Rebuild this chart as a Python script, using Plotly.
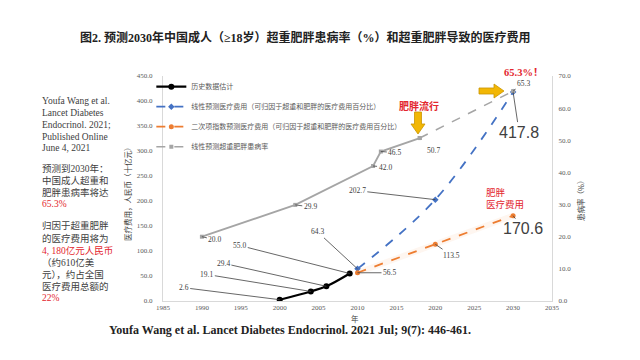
import plotly.graph_objects as go

# ---------------- data ----------------
hist_years = [2000, 2004, 2006, 2009]
hist_cost = [2.6, 19.1, 29.4, 55.0]

lin_years = [2010, 2020, 2030]
lin_cost = [64.3, 202.7, 417.8]

quad_years = [2010, 2020, 2030]
quad_cost = [56.5, 113.5, 170.6]

prev_obs_years = [1990, 2002, 2012, 2013, 2018]
prev_obs = [20.0, 29.9, 42.0, 46.5, 50.7]
prev_proj_years = [2018, 2030]
prev_proj = [50.7, 65.3]

legend_names = [
    "历史数据估计",
    "线性预测医疗费用（可归因于超重和肥胖的医疗费用百分比）",
    "二次项指数预测医疗费用（可归因于超重和肥胖的医疗费用百分比）",
    "线性预测超重肥胖患病率",
]

# ---------------- layout geometry (pixels, as seen in the photographed page) ----------------
W, H = 640, 360
OFF = 8  # page body margin
L, R, T, B = 163, 552, 76, 301


def px(x):
    return (x - L) / (R - L)


def py(y):
    return (B - y) / (B - T)


SERIF = "Liberation Serif, Noto Sans CJK SC"
CJK = "Noto Sans CJK SC"
RED = "#e3262e"
TXT = "#404040"

fig = go.Figure()

fig.add_trace(go.Scatter(
    x=hist_years, y=hist_cost, name=legend_names[0], mode="lines+markers",
    line=dict(color="#000000", width=2.2, shape="spline"),
    marker=dict(symbol="circle", size=6, color="#000000"),
    legendgroup="a", showlegend=True))
fig.add_trace(go.Scatter(
    x=lin_years, y=lin_cost, name=legend_names[1], mode="lines+markers",
    line=dict(color="#4472c4", width=1.8, dash="dash", shape="spline"),
    marker=dict(symbol="diamond", size=5, color="#4472c4"),
    legendgroup="b"))
fig.add_trace(go.Scatter(
    x=quad_years, y=quad_cost, mode="lines", showlegend=False, hoverinfo="skip",
    line=dict(color="rgba(237,125,49,0.07)", width=6)))
fig.add_trace(go.Scatter(
    x=quad_years, y=quad_cost, name=legend_names[2], mode="lines+markers",
    line=dict(color="#ed7d31", width=1.8, dash="dash"),
    marker=dict(symbol="circle", size=5, color="#ed7d31"),
    legendgroup="c"))
fig.add_trace(go.Scatter(
    x=prev_obs_years, y=prev_obs, mode="lines+markers", showlegend=False,
    line=dict(color="#a5a5a5", width=1.8),
    marker=dict(symbol="square", size=4, color="#a5a5a5"),
    yaxis="y2"))
fig.add_trace(go.Scatter(
    x=prev_proj_years, y=prev_proj, name=legend_names[3], mode="lines+markers",
    line=dict(color="#a5a5a5", width=1.5, dash="dash"),
    marker=dict(symbol="square", size=4, color="#a5a5a5"),
    yaxis="y2", legendgroup="d"))

ann = []


def label(x, y, text, ax, ay, yref="y", size=7.5, font=SERIF):
    ann.append(dict(x=x, y=y, xref="x", yref=yref, text=text, showarrow=True,
                    ax=ax, ay=ay, arrowhead=0, arrowwidth=0.8, arrowcolor="#404040",
                    font=dict(family=font, size=size, color=TXT)))


# data labels with leader lines
hist_off = [(-96, -12), (-104, -17), (-103, -23), (-110, -28)]
for xv, yv, (ax, ay) in zip(hist_years, hist_cost, hist_off):
    label(xv, yv, f"{yv:.1f}", ax, ay)
label(lin_years[0], lin_cost[0], f"{lin_cost[0]:.1f}", -40, -37)
label(lin_years[1], lin_cost[1], f"{lin_cost[1]:.1f}", -78, -9)
label(lin_years[2], lin_cost[2], f"{lin_cost[2]:.1f}", 6, 40, size=16, font="Liberation Sans")
label(quad_years[0], quad_cost[0], f"{quad_cost[0]:.1f}", 32, 0)
label(quad_years[1], quad_cost[1], f"{quad_cost[1]:.1f}", 16, 11)
label(quad_years[2], quad_cost[2], f"{quad_cost[2]:.1f}", 10, 13, size=16, font="Liberation Sans")
prev_off = [(13, 3), (15, 2), (12, 1), (14, 1), (14, 12)]
for xv, yv, (ax, ay) in zip(prev_obs_years, prev_obs, prev_off):
    label(xv, yv, f"{yv:.1f}", ax, ay, yref="y2")
label(prev_proj_years[1], prev_proj[1], f"{prev_proj[1]:.1f}", 10, -8, yref="y2")


def text(x, y, t, size, color=TXT, family=SERIF, xanchor="center", align="center", angle=0):
    ann.append(dict(x=px(x), y=py(y), xref="paper", yref="paper", text=t, showarrow=False,
                    xanchor=xanchor, yanchor="middle", align=align, textangle=angle,
                    font=dict(family=family, size=size, color=color)))


# title and citation
text(305, 37, "<b>图2. 预测2030年中国成人（≥18岁）超重肥胖患病率（%）和超重肥胖导致的医疗费用</b>",
     12, color="#222222")
text(290, 330, "<b>Youfa Wang et al. Lancet Diabetes Endocrinol. 2021 Jul; 9(7): 446-461.</b>",
     12, color="#222222", family="Liberation Serif")

# left text block, line by line
left_lines = [
    (101, "Youfa Wang et al.", TXT), (113, "Lancet Diabetes", TXT), (125, "Endocrinol. 2021;", TXT),
    (137, "Published Online", TXT), (148, "June 4, 2021", TXT),
    (168, "预测到2030年：", TXT), (180, "中国成人超重和", TXT), (192, "肥胖患病率将达", TXT),
    (204, "65.3%", RED),
    (225, "归因于超重肥胖", TXT), (238, "的医疗费用将为", TXT), (250, "4, 180亿元人民币", RED),
    (262, "（约610亿美", TXT), (274, "元），约占全国", TXT), (286, "医疗费用总额的", TXT),
    (298, "22%", RED),
]
for yy, t, c in left_lines:
    text(40, yy, t, 9.5, color=c, xanchor="left", align="left")

# axis titles
text(127, 192, "医疗费用，人民币（十亿元）", 7.5, family=CJK, angle=-90)
text(580, 199, "患病率（%）", 7.5, family=CJK, angle=-90)
text(355, 318, "年", 7.5, family=CJK)

# red callouts
text(523, 73, "<b>65.3%！</b>", 10.5, color=RED)
text(419, 105, "<b>肥胖流行</b>", 10, color=RED, family=CJK)
text(484, 198, "肥胖<br>医疗费用", 9.5, color=RED, family=CJK, xanchor="left", align="left")


def path(points):
    return "M " + " L ".join(f"{px(a):.5f},{py(b):.5f}" for a, b in points) + " Z"


shapes = [
    dict(type="path", xref="paper", yref="paper",
         path=path([(479, 88), (494, 88), (494, 84), (504, 91), (494, 98), (494, 94), (479, 94)]),
         fillcolor="#f2b705", line=dict(color="#c99400", width=0.8)),
    dict(type="path", xref="paper", yref="paper",
         path=path([(414.5, 112), (421.5, 112), (421.5, 124), (425, 124), (418, 134), (411, 124), (414.5, 124)]),
         fillcolor="#f2b705", line=dict(color="#c99400", width=0.8)),
]

tickfont = dict(family="Liberation Serif", size=7, color="#595959")
fig.update_layout(
    width=W, height=H,
    margin=dict(l=L - OFF, r=W - (R - OFF), t=T - OFF, b=H - (B - OFF), pad=0),
    paper_bgcolor="white", plot_bgcolor="white",
    showlegend=True,
    legend=dict(x=-0.03, y=1.017, xanchor="left", yanchor="top",
                bgcolor="rgba(0,0,0,0)", font=dict(family=CJK, size=7, color="#595959"),
                tracegroupgap=1, itemwidth=30),
    xaxis=dict(range=[1985, 2035], dtick=5, tick0=1985, showgrid=False, zeroline=False,
               showline=True, linecolor="#d9d9d9", linewidth=1, ticks="", tickfont=tickfont),
    yaxis=dict(range=[0, 450], dtick=50, showgrid=False, zeroline=False, tickformat=".1f",
               showline=True, linecolor="#d9d9d9", linewidth=1, ticks="", tickfont=tickfont,
               ticklabelstandoff=8),
    yaxis2=dict(range=[0, 70], dtick=10, overlaying="y", side="right", showgrid=False,
                zeroline=False, tickformat=".1f", showline=True, linecolor="#d9d9d9",
                linewidth=1, ticks="", tickfont=tickfont, ticklabelstandoff=4),
    annotations=ann,
    shapes=shapes,
)

fig.write_html("out.html")
